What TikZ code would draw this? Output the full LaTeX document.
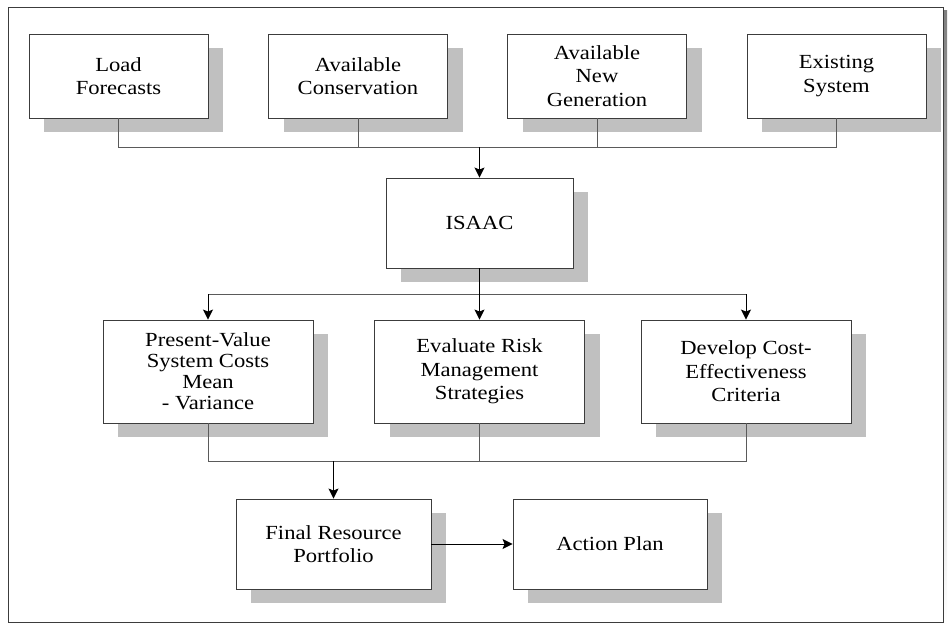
\documentclass[tikz,border=0pt]{standalone}
\usepackage{fontspec}
\setmainfont{Liberation Serif}[FakeStretch=1.13]
\usetikzlibrary{arrows.meta,shadows}
\definecolor{shade}{RGB}{192,192,192}
\definecolor{edge}{RGB}{60,60,60}
\definecolor{wire}{RGB}{90,90,90}
\tikzset{
  x=1pt, y=-1pt,
  stepbox/.style={draw=edge, fill=white, line width=0.9pt, inner sep=0pt,
    align=center, font=\fontsize{20}{23.5}\selectfont,
    drop shadow={shadow xshift=15pt, shadow yshift=-14pt, fill=shade, opacity=1}},
  topbox/.style={stepbox, minimum width=179pt, minimum height=84pt},
  midbox/.style={stepbox, minimum width=210pt, minimum height=103pt},
  lowbox/.style={stepbox, minimum width=195pt, minimum height=90pt},
  wireline/.style={draw=wire, line width=0.9pt},
  flow/.style={draw=black, line width=1.2pt, -{Stealth[length=10pt, width=10pt, inset=2pt]}},
  thinflow/.style={draw=black, line width=1pt, -{Stealth[length=10pt, width=10pt, inset=2pt]}}
}
\begin{document}
\begin{tikzpicture}
\useasboundingbox (0,0) rectangle (949,627);
% page frame with its shadow
\fill[shade] (11,10) rectangle (947,626);
\draw[draw=edge, fill=white, line width=1pt] (8,7) rectangle (943,622);

% inputs
\node[topbox] (load)  at (118.5,76) {Load\\Forecasts};
\node[topbox] (cons)  at (358,76)   {Available\\Conservation};
\node[topbox] (newg)  at (597,76)   {Available\\New\\Generation};
\node[topbox] (exist) at (836.5,76) {Existing\\System};

% model
\node[stepbox, minimum width=187pt, minimum height=90pt] (isaac) at (479.5,223) {ISAAC};

% analyses
\node[midbox, font=\fontsize{20}{21}\selectfont] (pv) at (208,371.5) {Present-Value\\System Costs\\Mean\\- Variance};
\node[midbox] (risk) at (479.5,371.5) {Evaluate Risk\\Management\\Strategies};
\node[midbox] (dev)  at (746,371.5)   {Develop Cost-\\Effectiveness\\Criteria};

% outcome
\node[lowbox] (final)  at (333.5,544) {Final Resource\\Portfolio};
\node[lowbox, minimum width=194pt] (action) at (610,544) {Action Plan};

% bus points
\coordinate (bus1) at (479.5,147);
\coordinate (bus2) at (479.5,294);
\coordinate (bus3) at (333.5,461);

% inputs feed the model
\draw[wireline] (load.south) |- (exist.south |- bus1) -- (exist.south);
\draw[wireline] (cons.south) -- (cons.south |- bus1);
\draw[wireline] (newg.south) -- (newg.south |- bus1);
\draw[flow] (bus1) -- (isaac.north);

% model feeds the analyses
\draw[flow, -] (isaac.south) -- (bus2);
\draw[wireline] (pv.north |- bus2) -- (dev.north |- bus2);
\draw[thinflow] (pv.north |- bus2) -- (pv.north);
\draw[thinflow] (bus2) -- (risk.north);
\draw[thinflow] (dev.north |- bus2) -- (dev.north);

% analyses feed the portfolio
\draw[wireline] (pv.south) |- (dev.south |- bus3) -- (dev.south);
\draw[wireline] (risk.south) -- (risk.south |- bus3);
\draw[thinflow] (bus3) -- (final.north);
\draw[thinflow] (final.east) -- (action.west);
\end{tikzpicture}
\end{document}
